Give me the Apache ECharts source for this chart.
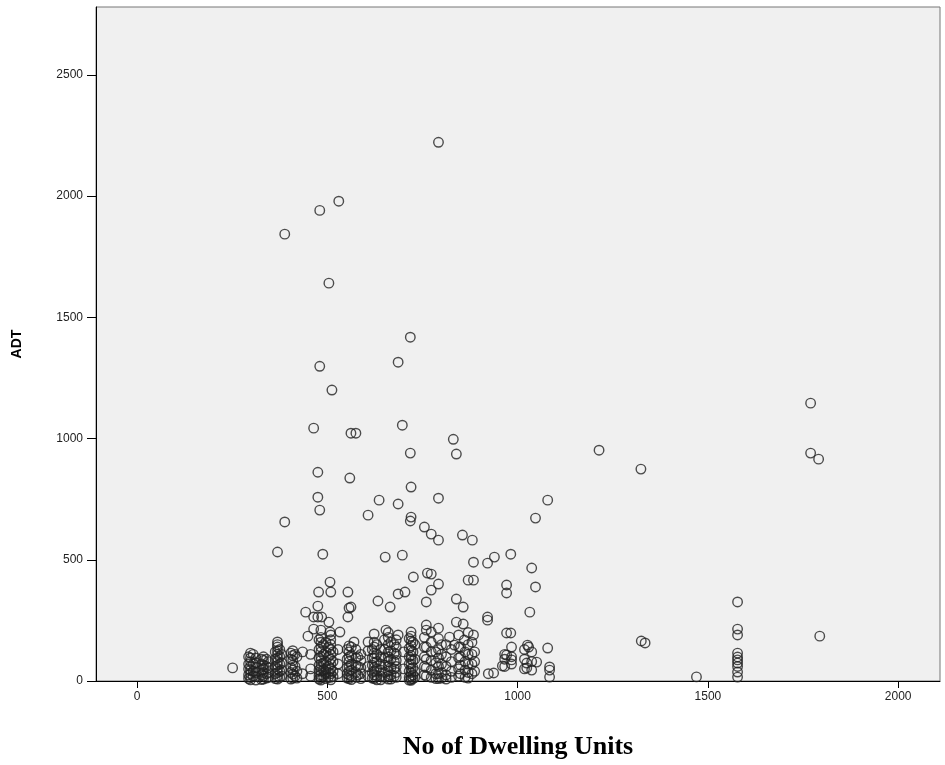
<!DOCTYPE html>
<html>
<head>
<meta charset="utf-8">
<script src="https://cdn.jsdelivr.net/npm/echarts@6/dist/echarts.min.js"></script>
<style>
html,body{margin:0;padding:0;background:#fff;}
#chart{width:945px;height:765px;}
</style>
</head>
<body>
<div id="chart"></div>
<script>
// Tick labels
var xTicks = [0, 500, 1000, 1500, 2000];
var yTicks = [0, 500, 1000, 1500, 2000, 2500];

// Scattered points above ~250 ADT
var highDU  = [792,530,480,388,504,718,686,480,512,1770,697,464,562,575,831,1214,1770,718,839,1791,1324,475,559,720,475,636,792,1079,686,480,607,720,1047,718,388,755,855,773,792,881,369,488,652,697,982,939,884,921,1037,773,763,726,870,884,507,792,1047,971,773,971,477,509,554,686,704,839,633,760,1578,475,557,562,665,857,1032,443,921,464,475,485,554,921];
var highADT = [2222,1979,1941,1843,1641,1418,1315,1298,1200,1146,1055,1043,1022,1022,997,952,940,940,936,915,874,861,837,800,758,746,754,746,730,705,684,676,672,660,656,635,602,606,581,581,532,523,511,519,523,511,490,486,466,441,445,429,416,416,408,400,388,396,375,363,367,367,367,359,367,338,330,326,326,309,301,305,305,305,284,284,264,264,264,264,264,251];

// Points between ~130 and ~250 ADT, plus isolated low points on the right
var midDU  = [839,857,504,760,792,1578,464,483,773,507,533,971,982,1578,1794,449,570,1325,1335,1026,1029,1079,607,623,654,686,720,760,369,821,834,860,884,960,937,1024,1024,1050,1084,1084,1084,971,984,1470];
var midADT = [243,235,243,231,218,214,214,210,202,202,202,198,198,190,185,185,161,165,157,148,140,136,161,194,210,190,202,210,161,181,148,169,190,62,33,74,54,78,58,45,16,107,87,17];

// Dense columns near the axis: dwelling units and the ADT values stacked there
var lowDU = [251,298,305,332,340,369,375,409,415,435,456,483,490,509,528,557,575,588,607,623,640,660,681,700,720,730,755,773,792,812,826,845,870,887,923,966,984,1018,1037,1578,
             293,312,327,345,363,380,404,420,478,496,503,515,552,563,580,618,630,650,667,676,715,725,760,785,800,850,862,880];
var lowADT = [
  [54],
  [115,95,80,60,45,30,15,5],
  [110,70,40,20],
  [100,85,65,50,35,20,8],
  [90,60,30,12],
  [150,140,125,110,95,80,65,50,35,20,8],
  [130,100,70,40,15],
  [125,105,85,65,45,28,12],
  [110,60,20],
  [120,30],
  [110,50,20],
  [180,160,140,120,100,85,70,55,40,25,12,4],
  [150,110,75,45,20],
  [190,170,150,130,110,90,70,50,30,15,5],
  [130,70,30],
  [145,120,100,80,60,40,25,10],
  [130,95,65,35,15],
  [110,85,55,30,10],
  [125,60,20],
  [160,140,115,95,75,55,40,25,10],
  [130,100,70,45,20,5],
  [200,180,150,120,100,80,60,40,20,8],
  [170,140,110,85,60,35,15],
  [120,50],
  [185,165,145,125,105,90,70,50,35,20,8,3],
  [150,90,40,15],
  [180,140,100,60,25],
  [160,120,85,45,15],
  [175,130,95,60,30,10],
  [150,100,60,25,8],
  [130,80,40,15],
  [190,140,95,50,20],
  [200,150,110,70,35,12],
  [120,80,40],
  [30],
  [110,90,60],
  [140,100,70],
  [130,90,50],
  [120,80,45],
  [115,99,87,74,60,37,16],
  [100,70,50,25,10],
  [95,75,55,35,18,4],
  [90,70,45,25,6],
  [80,55,35,15],
  [120,90,60,30,10],
  [110,75,45,20],
  [115,90,55,35,8],
  [100,40,12],
  [170,130,95,65,45,22,8],
  [160,120,80,50,30,10],
  [140,100,60,35,15],
  [120,80,40,18],
  [130,90,55,30,12],
  [140,105,70,45,20,6],
  [100,60,25],
  [130,95,65,35,12],
  [150,110,80,50,22,5],
  [170,130,95,65,35,15],
  [160,125,90,55,25,8],
  [150,115,80,50,20],
  [175,135,100,70,40,15,4],
  [160,120,85,55,25,10],
  [140,90,55,20],
  [120,75,30,10],
  [150,110,70,35,12],
  [140,100,65,30],
  [120,80,45,15],
  [160,110,70,30]
];

var data = [];
highDU.forEach(function (x, i) { data.push([x, highADT[i]]); });
midDU.forEach(function (x, i) { data.push([x, midADT[i]]); });
lowDU.forEach(function (x, i) { lowADT[i].forEach(function (y) { data.push([x, y]); }); });

var chart = echarts.init(document.getElementById('chart'), null, {renderer: 'canvas'});
chart.setOption({
  animation: false,
  backgroundColor: '#ffffff',
  grid: {
    left: 96, top: 7, right: 5, bottom: 84,
    show: true, backgroundColor: '#f0f0f0', borderColor: '#777', borderWidth: 1
  },
  xAxis: {
    type: 'value', min: -108, max: 2110,
    name: 'No of Dwelling Units', nameLocation: 'middle', nameGap: 53,
    nameTextStyle: {fontFamily: 'Liberation Serif', fontWeight: 'bold', fontSize: 26, color: '#000'},
    splitLine: {show: false},
    axisLine: {show: true, onZero: false, lineStyle: {color: '#000', width: 1}},
    axisTick: {show: true, length: 7, lineStyle: {color: '#000'}, customValues: xTicks},
    axisLabel: {customValues: xTicks, margin: 10, fontFamily: 'Liberation Sans', fontSize: 12, color: '#222',
      formatter: function (v) { return String(v); }}
  },
  yAxis: {
    type: 'value', min: 0, max: 2780,
    name: 'ADT', nameLocation: 'middle', nameGap: 72, nameRotate: 90,
    nameTextStyle: {fontFamily: 'Liberation Sans', fontWeight: 'bold', fontSize: 14, color: '#000'},
    splitLine: {show: false},
    axisLine: {show: true, onZero: false, lineStyle: {color: '#000', width: 1}},
    axisTick: {show: true, length: 9, lineStyle: {color: '#000'}, customValues: yTicks},
    axisLabel: {customValues: yTicks, margin: 13, fontFamily: 'Liberation Sans', fontSize: 12, color: '#222',
      formatter: function (v) { return String(v); }}
  },
  series: [{
    type: 'scatter',
    data: data,
    symbol: 'circle',
    symbolSize: 9.5,
    itemStyle: {color: 'rgba(0,0,0,0)', borderColor: '#222', borderWidth: 1.4}
  }]
});
</script>
</body>
</html>
